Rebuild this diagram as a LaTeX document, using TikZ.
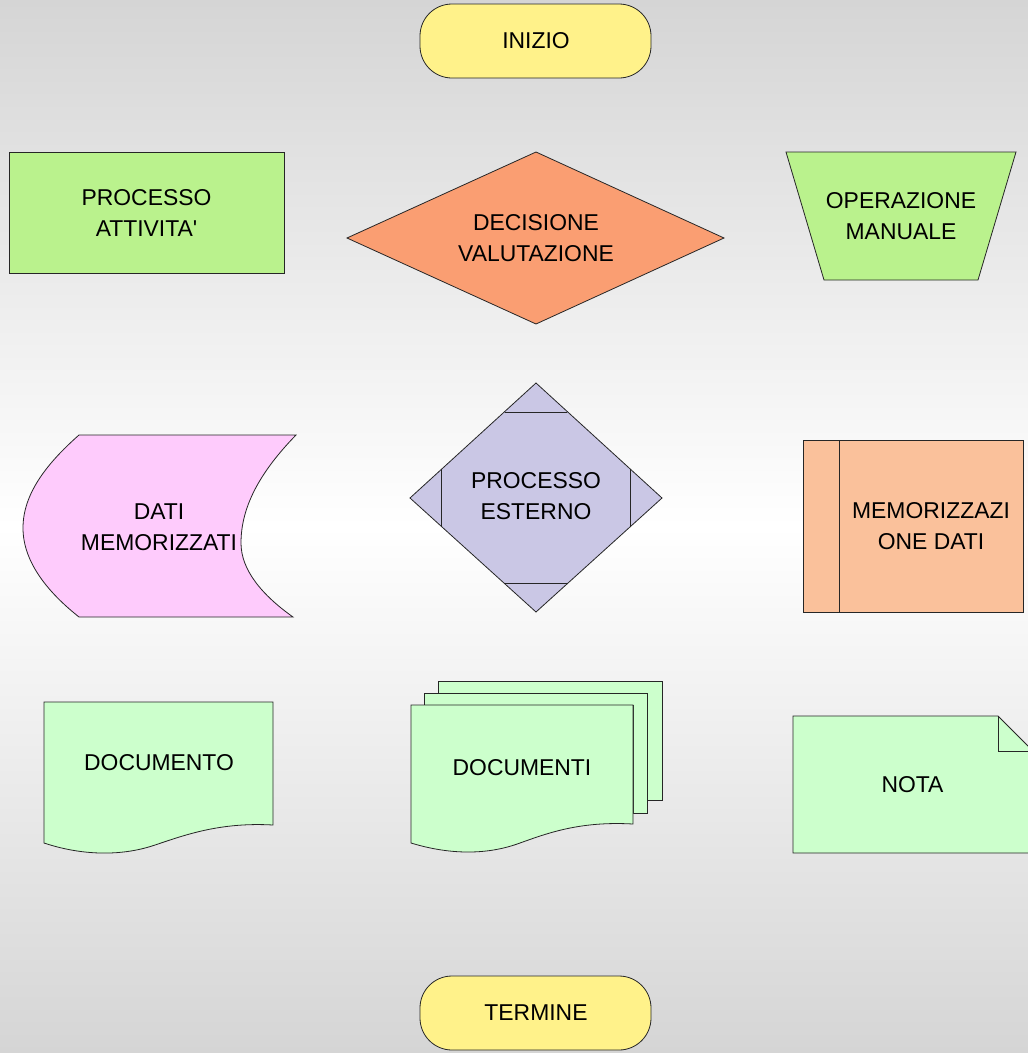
\documentclass[tikz,border=0pt]{standalone}
\usepackage{fontspec}
\setmainfont{Liberation Sans}
\definecolor{bggray}{HTML}{D5D5D5}
\definecolor{termyellow}{HTML}{FFF28A}
\definecolor{procgreen}{HTML}{BAF28D}
\definecolor{decsalmon}{HTML}{FA9E72}
\definecolor{extlav}{HTML}{CAC7E5}
\definecolor{datapink}{HTML}{FECBFC}
\definecolor{storepeach}{HTML}{FAC19B}
\definecolor{docgreen}{HTML}{CCFFCC}
\begin{document}
\begin{tikzpicture}[x=1pt,y=-1pt,
  shapeline/.style={draw=black!85, line width=0.8pt, line join=miter},
  label/.style={font=\fontsize{22.9}{31}\selectfont, align=center, inner sep=0pt, text=black}]
\useasboundingbox (0,0) rectangle (1028,1053);
% background
\shade[top color=bggray, bottom color=bggray, middle color=white] (0,0) rectangle (1028,1053);

% INIZIO / TERMINE
\draw[shapeline, fill=termyellow, rounded corners=32pt] (420,4) rectangle (651,78);
\node[label] (inizio) at (536,41) {INIZIO};
\draw[shapeline, fill=termyellow, rounded corners=32pt] (420,976) rectangle (651,1050);
\node[label] (termine) at (536,1013) {TERMINE};

% PROCESSO ATTIVITA'
\draw[shapeline, fill=procgreen] (9,152) rectangle (284,273);
\node[label] (processo) at (146.5,212.5) {PROCESSO\\ATTIVITA\textquotesingle};

% DECISIONE
\draw[shapeline, fill=decsalmon] (536,152) -- (724,238) -- (536,324) -- (347,238) -- cycle;
\node[label] (decisione) at (536,238) {DECISIONE\\VALUTAZIONE};

% OPERAZIONE MANUALE
\draw[shapeline, fill=procgreen] (786,152) -- (1016,152) -- (978,280) -- (824,280) -- cycle;
\node[label] (manuale) at (901,216) {OPERAZIONE\\MANUALE};

% DATI MEMORIZZATI
\draw[shapeline, fill=datapink] (79,435) -- (296,435)
  .. controls (262,470) and (241,505) .. (241,543)
  .. controls (241,570) and (262,595) .. (293,617)
  -- (79,617)
  .. controls (45,590) and (23,560) .. (23,528)
  .. controls (23,495) and (45,465) .. (79,435) -- cycle;
\node[label] (dati) at (159,527) {DATI\\MEMORIZZATI};

% PROCESSO ESTERNO
\draw[shapeline, fill=extlav] (536,383) -- (662,498) -- (536,612) -- (410,498) -- cycle;
\draw[shapeline] (505,412) -- (567,412);
\draw[shapeline] (505,583) -- (567,583);
\draw[shapeline] (441,469) -- (441,526);
\draw[shapeline] (630,469) -- (630,526);
\node[label] (esterno) at (536,496) {PROCESSO\\ESTERNO};

% MEMORIZZAZIONE DATI
\draw[shapeline, fill=storepeach] (803,440) rectangle (1023,612);
\draw[shapeline] (839,440) -- (839,612);
\node[label] (memorizz) at (931,526) {MEMORIZZAZI\\ONE DATI};

% DOCUMENTO
\draw[shapeline, fill=docgreen] (44,702) -- (273,702) -- (273,825)
  .. controls (220,822) and (185,835) .. (155,845)
  .. controls (120,857) and (80,855) .. (44,843) -- cycle;
\node[label] (documento) at (159,763) {DOCUMENTO};

% DOCUMENTI
\draw[shapeline, fill=docgreen] (438,681) -- (662,681) -- (662,800) -- (647,800) -- (647,693) -- (438,693) -- cycle;
\draw[shapeline, fill=docgreen] (424,693) -- (647,693) -- (647,813) -- (633,813) -- (633,705) -- (424,705) -- cycle;
\draw[shapeline, fill=docgreen] (411,705) -- (633,705) -- (633,824)
  .. controls (580,821) and (548,833) .. (520,843)
  .. controls (485,856) and (447,854) .. (411,843) -- cycle;
\node[label] (documenti) at (522,768) {DOCUMENTI};

% NOTA
\begin{scope}
\clip (0,0) rectangle (1028,1053);
\draw[shapeline, fill=docgreen] (793,716) -- (998,716) -- (1034,752) -- (1034,853) -- (793,853) -- cycle;
\draw[shapeline] (998,716) -- (998,751) -- (1034,751);
\end{scope}
\node[label] (nota) at (912.5,785) {NOTA};
\end{tikzpicture}
\end{document}
